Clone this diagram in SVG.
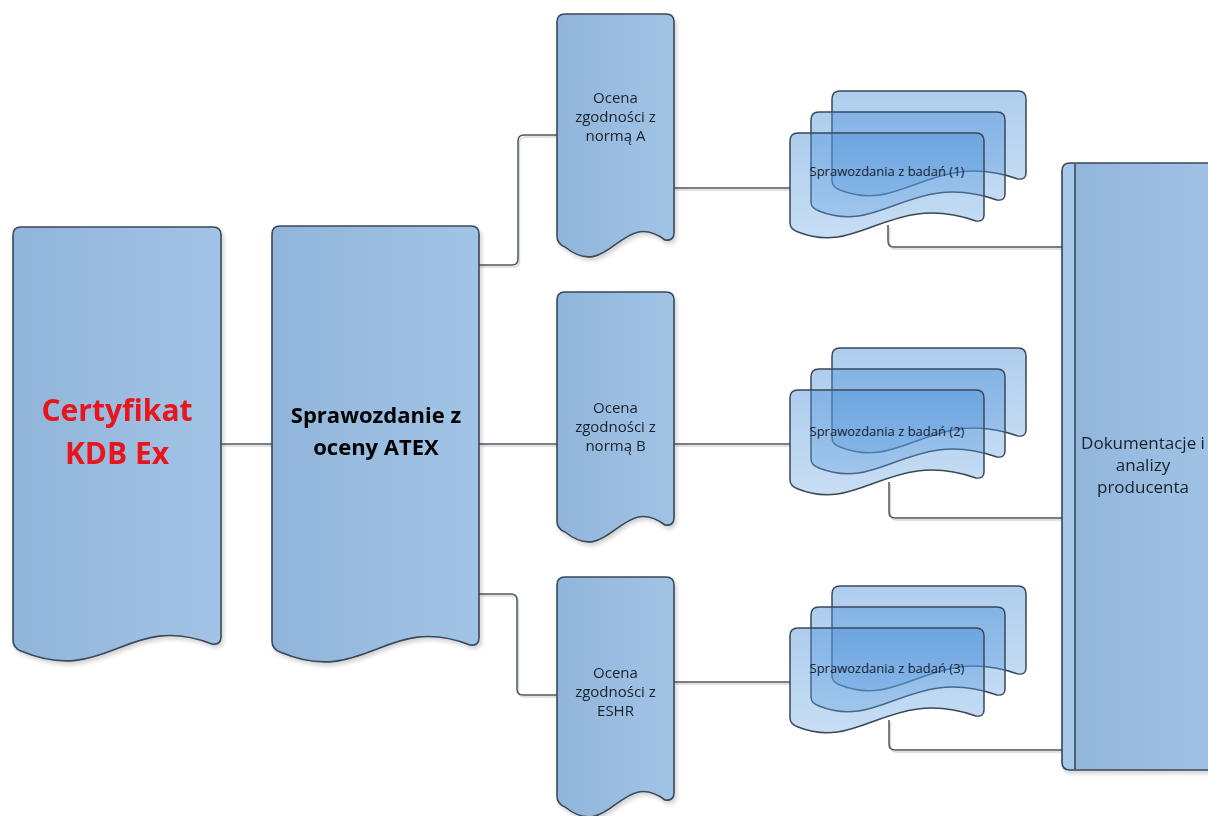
<svg xmlns="http://www.w3.org/2000/svg" width="1208" height="816" viewBox="0 0 1208 816">
<style>
.bg{fill:#ffffff}
.tall{fill:url(#gTall);stroke:#3a4858;stroke-width:1.6}
.doc{fill:url(#gDoc);stroke:#3a4858;stroke-width:1.5}
.ln{fill:none;stroke:#4d5560;stroke-width:1.5}
.sh{fill:none;stroke:#d6d9dc;stroke-width:1.5}
.t{font-family:"Open Sans","Liberation Sans",sans-serif;fill:#17222e;text-anchor:middle}
.ocena{font-size:15px}
.spr{font-size:13px}
.big{font-size:22px;font-weight:bold;fill:#000}
.red{font-size:30px;font-weight:bold;fill:#e8141c}
.dok{font-size:17px}
</style>
<defs>
<linearGradient id="gTall" x1="0" y1="0" x2="1" y2="0">
<stop offset="0" stop-color="#91b5da"/>
<stop offset="1" stop-color="#a1c4e6"/>
</linearGradient>
<linearGradient id="gDoc" x1="0" y1="0" x2="0" y2="1">
<stop offset="0" stop-color="#4a8fd8" stop-opacity="0.45"/>
<stop offset="1" stop-color="#5fa0e0" stop-opacity="0.35"/>
</linearGradient>
<filter id="shadow" x="-10%" y="-10%" width="130%" height="130%">
<feGaussianBlur in="SourceAlpha" stdDeviation="2"/>
<feOffset dx="2" dy="3"/>
<feComponentTransfer><feFuncA type="linear" slope="0.18"/></feComponentTransfer>
<feMerge><feMergeNode/><feMergeNode in="SourceGraphic"/></feMerge>
</filter>
<path id="sdoc" d="M0,8 Q0,0 8,0 H186 Q194,0 194,8 V82 Q194,89 186,88 C100,58 70,124 8,99 Q0,96 0,90 Z"/>
</defs>
<rect class="bg" x="0" y="0" width="1208" height="816"/>

<g id="connectors">
<g transform="translate(1.5,2)">
<path class="sh" d="M221,444 H272"/>
<path class="sh" d="M479,265 H512 Q518,265 518,259 V141 Q518,135 524,135 H557"/>
<path class="sh" d="M479,444 H557"/>
<path class="sh" d="M479,594 H511 Q517,594 517,600 V689 Q517,695 523,695 H557"/>
<path class="sh" d="M674,188 H790"/>
<path class="sh" d="M674,444 H790"/>
<path class="sh" d="M674,682 H790"/>
<path class="sh" d="M888,225 V241 Q888,247 894,247 H1062"/>
<path class="sh" d="M889,482 V512 Q889,518 895,518 H1062"/>
<path class="sh" d="M889,720 V744 Q889,750 895,750 H1062"/>
</g>
<path class="ln" d="M221,444 H272"/>
<path class="ln" d="M479,265 H512 Q518,265 518,259 V141 Q518,135 524,135 H557"/>
<path class="ln" d="M479,444 H557"/>
<path class="ln" d="M479,594 H511 Q517,594 517,600 V689 Q517,695 523,695 H557"/>
<path class="ln" d="M674,188 H790"/>
<path class="ln" d="M674,444 H790"/>
<path class="ln" d="M674,682 H790"/>
<path class="ln" d="M888,225 V241 Q888,247 894,247 H1062"/>
<path class="ln" d="M889,482 V512 Q889,518 895,518 H1062"/>
<path class="ln" d="M889,720 V744 Q889,750 895,750 H1062"/>
</g>

<g id="certyfikat" filter="url(#shadow)">
<path class="tall" d="M13,235 Q13,227 21,227 H213 Q221,227 221,235 V637 Q221,645 212,644 C127,611 107,687 21,651 Q13,648 13,640 Z"/>
<text class="t red" x="117" y="421">Certyfikat</text>
<text class="t red" x="117" y="464">KDB Ex</text>
</g>

<g id="sprawozdanie" filter="url(#shadow)">
<path class="tall" d="M272,234 Q272,226 280,226 H471 Q479,226 479,234 V638 Q479,646 470,645 C386,612 365,688 280,652 Q272,649 272,641 Z"/>
<text class="t big" x="376" y="423">Sprawozdanie z</text>
<text class="t big" x="376" y="455">oceny ATEX</text>
</g>

<g id="ocena-a" filter="url(#shadow)">
<path class="tall" d="M557,22 Q557,14 565,14 H666 Q674,14 674,22 V233 Q674,241 665,240 C621,207 610,283 565,247 Q557,244 557,236 Z"/>
<text class="t ocena" x="615.5" y="103">Ocena</text>
<text class="t ocena" x="615.5" y="122">zgodności z</text>
<text class="t ocena" x="615.5" y="141">normą A</text>
</g>

<g id="ocena-b" filter="url(#shadow)">
<path class="tall" d="M557,300 Q557,292 565,292 H666 Q674,292 674,300 V518 Q674,526 665,525 C621,492 610,568 565,532 Q557,529 557,521 Z"/>
<text class="t ocena" x="615.5" y="413">Ocena</text>
<text class="t ocena" x="615.5" y="432">zgodności z</text>
<text class="t ocena" x="615.5" y="451">normą B</text>
</g>

<g id="ocena-eshr" filter="url(#shadow)">
<path class="tall" d="M557,585 Q557,577 565,577 H666 Q674,577 674,585 V793 Q674,801 665,800 C621,767 610,843 565,807 Q557,804 557,796 Z"/>
<text class="t ocena" x="615.5" y="678">Ocena</text>
<text class="t ocena" x="615.5" y="697">zgodności z</text>
<text class="t ocena" x="615.5" y="716">ESHR</text>
</g>

<g id="sprawozdania-1">
<use href="#sdoc" class="doc" transform="translate(832,91)"/>
<use href="#sdoc" class="doc" transform="translate(811,112)"/>
<use href="#sdoc" class="doc" transform="translate(790,133)"/>
<text class="t spr" x="887" y="176">Sprawozdania z badań (1)</text>
</g>

<g id="sprawozdania-2">
<use href="#sdoc" class="doc" transform="translate(832,348)"/>
<use href="#sdoc" class="doc" transform="translate(811,369)"/>
<use href="#sdoc" class="doc" transform="translate(790,390)"/>
<text class="t spr" x="887" y="436">Sprawozdania z badań (2)</text>
</g>

<g id="sprawozdania-3">
<use href="#sdoc" class="doc" transform="translate(832,586)"/>
<use href="#sdoc" class="doc" transform="translate(811,607)"/>
<use href="#sdoc" class="doc" transform="translate(790,628)"/>
<text class="t spr" x="887" y="673">Sprawozdania z badań (3)</text>
</g>

<g id="dokumentacje" filter="url(#shadow)">
<path class="tall" d="M1062,171 Q1062,163 1070,163 H1230 V770 H1070 Q1062,770 1062,762 Z"/>
<path d="M1063,171 Q1063,164 1070,164 H1075 V769 H1070 Q1063,769 1063,762 Z" fill="#a6c8ea"/>
<path d="M1075,164 V769" stroke="#3a4858" stroke-width="1.6" fill="none"/>
<text class="t dok" x="1143" y="449">Dokumentacje i</text>
<text class="t dok" x="1143" y="471">analizy</text>
<text class="t dok" x="1143" y="493">producenta</text>
</g>
</svg>
